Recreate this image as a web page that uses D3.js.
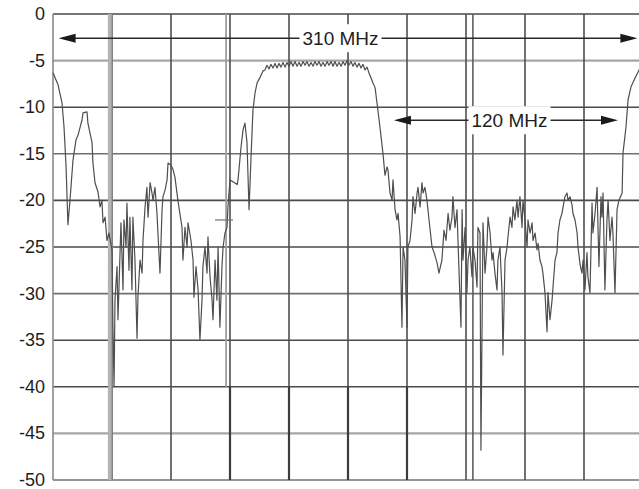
<!DOCTYPE html>
<html>
<head>
<meta charset="utf-8">
<script src="https://cdn.jsdelivr.net/npm/d3@7"></script>
<style>
  body { margin: 0; background: #fff; }
  svg { display: block; }
</style>
</head>
<body>
<svg id="chart" width="639" height="489"></svg>
<script>
// Level axis (dB) ticks and their printed labels
const levelTicks = [0, -5, -10, -15, -20, -25, -30, -35, -40, -45, -50];
const tickLabels = ["0", "-5", "-10", "-15", "-20", "-25", "-30", "-35", "-40", "-45", "-50"];

// Frequency offset from centre (MHz) and measured level (dB)
const spectrum = [
  [-158.0,-6.3],[-155.3,-7.6],[-153.2,-9.5],[-152.1,-12.1],[-151.0,-16.4],[-150.0,-22.6],[-148.9,-20.0],
  [-147.3,-15.7],[-145.7,-13.5],[-144.6,-13.0],[-142.5,-11.4],[-141.9,-10.6],[-139.8,-10.5],[-139.3,-11.7],
  [-137.1,-13.8],[-136.6,-16.0],[-135.5,-18.1],[-133.9,-19.1],[-132.8,-20.7],[-131.8,-20.0],[-131.2,-22.4],
  [-130.1,-21.8],[-129.1,-24.3],[-128.0,-23.5],[-126.4,-25.3],[-125.9,-33.6],[-125.3,-40.0],[-124.8,-30.7],
  [-123.7,-27.1],[-123.2,-32.8],[-121.6,-22.4],[-120.5,-29.6],[-120.0,-22.1],[-118.9,-25.0],[-118.4,-20.3],
  [-117.3,-27.5],[-116.8,-21.8],[-115.7,-29.6],[-115.2,-21.8],[-114.1,-26.4],[-113.0,-34.8],[-112.5,-30.4],
  [-111.4,-26.4],[-110.3,-27.8],[-109.8,-24.3],[-108.7,-20.7],[-107.7,-18.6],[-107.1,-21.8],[-106.0,-18.1],
  [-105.0,-19.2],[-104.4,-20.0],[-103.4,-18.6],[-102.3,-21.4],[-101.8,-23.5],[-100.7,-27.8],[-99.6,-21.0],
  [-99.1,-19.6],[-98.0,-18.9],[-96.9,-17.8],[-96.4,-16.0],[-94.8,-16.2],[-93.7,-16.7],[-92.7,-17.5],
  [-91.1,-20.0],[-88.9,-22.9],[-88.4,-26.4],[-87.3,-22.9],[-86.2,-25.0],[-85.7,-22.4],[-84.1,-24.3],
  [-83.0,-26.4],[-82.5,-30.4],[-81.4,-27.1],[-80.3,-29.6],[-79.3,-35.0],[-78.2,-30.7],[-77.7,-27.1],
  [-76.6,-25.0],[-75.5,-27.8],[-75.0,-23.9],[-73.9,-28.2],[-72.8,-30.7],[-72.3,-32.8],[-71.2,-26.4],
  [-70.2,-30.7],[-69.6,-25.0],[-68.6,-33.6],[-67.5,-27.1],[-66.9,-25.0],[-65.9,-23.5],[-64.8,-22.9],
  [-64.3,-20.7],[-63.2,-17.8],[-61.6,-18.0],[-59.4,-18.3],[-58.9,-17.8],[-57.3,-14.3],[-56.2,-12.4],
  [-55.2,-11.7],[-54.1,-13.8],[-53.0,-21.0],[-52.0,-15.7],[-50.9,-10.3],[-49.8,-8.5],[-48.7,-7.4],
  [-47.1,-6.8],[-45.5,-6.1],[-44.5,-6.0],
  // passband ripple
  [-43.4,-5.5],[-42.3,-5.9],[-41.3,-5.4],[-40.2,-5.8],[-39.1,-5.3],[-38.0,-5.8],[-37.0,-5.3],[-35.9,-5.7],
  [-34.8,-5.2],[-33.7,-5.7],[-32.7,-5.2],[-31.6,-5.6],[-30.5,-5.1],[-29.5,-5.6],[-28.4,-5.1],[-27.3,-5.6],
  [-26.2,-5.2],[-25.2,-5.6],[-24.1,-5.1],[-23.0,-5.5],[-22.0,-5.1],[-20.9,-5.6],[-19.8,-5.2],[-18.7,-5.6],
  [-17.7,-5.1],[-16.6,-5.5],[-15.5,-5.1],[-14.5,-5.6],[-13.4,-5.2],[-12.3,-5.6],[-11.2,-5.1],[-10.2,-5.5],
  [-9.1,-5.1],[-8.0,-5.6],[-7.0,-5.1],[-5.9,-5.6],[-4.8,-5.2],[-3.7,-5.6],[-2.7,-5.1],[-1.6,-5.5],
  [-0.5,-5.0],[0.5,-5.5],[1.6,-5.1],[2.7,-5.6],[3.7,-5.2],[4.8,-5.7],[5.9,-5.3],[7.0,-5.8],
  [8.0,-5.4],[9.1,-6.0],[10.2,-5.7],[11.2,-6.3],
  // upper skirt and stopband
  [13.4,-7.4],[14.5,-7.9],[15.5,-9.5],[17.1,-12.1],[18.7,-14.9],[19.8,-17.3],[20.9,-16.4],[21.4,-16.7],
  [22.5,-19.2],[23.6,-20.0],[24.1,-17.8],[25.2,-21.0],[26.2,-22.1],[26.8,-21.4],[27.9,-23.9],[28.9,-33.6],
  [29.5,-25.0],[30.5,-26.4],[31.6,-33.6],[32.1,-25.0],[33.2,-24.3],[34.3,-22.1],[34.8,-19.6],[35.9,-21.4],
  [37.0,-19.2],[37.5,-18.6],[38.6,-20.7],[39.6,-18.1],[40.2,-19.2],[41.2,-18.6],[42.3,-20.0],[43.4,-22.1],
  [45.0,-25.0],[46.1,-25.6],[47.7,-26.7],[48.7,-27.8],[50.3,-26.4],[51.4,-23.2],[52.5,-24.3],[53.6,-21.4],
  [54.6,-23.2],[55.7,-21.8],[56.2,-19.6],[57.3,-22.9],[58.4,-21.0],[58.9,-24.3],[60.5,-33.6],[61.1,-21.0],
  [61.6,-26.4],[62.7,-22.9],[63.7,-29.9],[64.3,-26.4],[65.3,-25.0],[66.4,-28.2],[66.9,-25.0],[68.0,-26.4],
  [69.1,-29.3],[69.6,-22.9],[70.7,-23.5],[71.2,-46.8],[72.3,-22.4],[73.4,-27.8],[74.4,-25.0],[75.0,-21.8],
  [76.1,-23.5],[77.1,-26.4],[77.7,-25.6],[78.7,-27.8],[79.8,-29.6],[80.3,-26.4],[81.4,-25.0],[82.5,-29.9],
  [83.0,-36.6],[84.1,-26.4],[85.2,-25.0],[85.7,-23.9],[86.8,-21.8],[87.8,-22.9],[88.4,-20.7],[89.4,-22.1],
  [90.5,-20.0],[91.1,-21.8],[92.1,-19.6],[93.2,-22.9],[93.7,-20.0],[94.8,-22.1],[95.9,-25.0],[96.4,-22.1],
  [97.5,-23.5],[98.6,-22.4],[99.1,-24.3],[100.2,-23.5],[101.2,-25.3],[101.8,-24.6],[102.8,-26.4],[103.9,-27.1],
  [104.4,-27.8],[105.5,-29.9],[106.6,-34.1],[107.1,-29.9],[108.2,-32.8],[109.3,-30.7],[109.8,-29.3],[110.9,-26.4],
  [111.9,-25.6],[112.5,-23.5],[113.5,-22.1],[114.6,-21.4],[115.2,-20.7],[116.2,-19.6],[117.3,-19.2],[117.8,-20.0],
  [118.9,-19.6],[120.0,-20.5],[120.5,-21.4],[121.6,-22.1],[122.7,-23.5],[123.2,-25.0],[124.3,-26.9],[125.3,-27.8],
  [125.9,-26.4],[126.9,-29.6],[128.0,-25.6],[128.5,-28.2],[129.6,-29.9],[130.7,-20.3],[131.2,-23.5],[132.3,-21.4],
  [133.4,-18.6],[133.9,-22.9],[134.4,-27.1],[135.5,-19.6],[136.0,-21.8],[136.6,-19.2],[137.6,-29.6],[138.7,-22.1],
  [139.3,-20.0],[140.3,-24.3],[141.4,-21.8],[141.9,-23.5],[143.0,-29.9],[144.1,-21.0],[145.1,-20.0],[146.8,-19.2],
  [147.3,-14.9],[148.9,-12.1],[150.0,-9.2],[151.6,-7.8],[153.7,-6.9],[155.9,-6.0],[158.0,-5.4]
];

// Bandwidth annotations: label, span (MHz), centre (MHz)
const spanLabels  = ["310 MHz", "120 MHz"];
const spanWidths  = [310, 120];
const spanCenters = [0, 84.6];
const spanLevels  = [-2.6, -11.4];   // dB at which each arrow is drawn
const labelCenters = [-4, 86.5];     // MHz at which each label sits

const svg = d3.select("#chart");
const x = d3.scaleLinear().domain([-158, 158]).range([53, 643]);
const y = d3.scaleLinear().domain([-50, 0]).range([480, 14]);
const divisions = d3.range(11).map(i => -158 + i * 31.6);

const grid = svg.append("g");

// horizontal graticule
const lightLevels = new Set([-5, -45]);
const midLevels = new Set([-30, -50, -15]);
grid.selectAll("line.h").data(levelTicks).join("line")
  .attr("x1", x(-158)).attr("x2", x(158))
  .attr("y1", d => y(d)).attr("y2", d => y(d))
  .attr("stroke", d => lightLevels.has(d) ? "#a6a6a6" : midLevels.has(d) ? "#707070" : "#4a4a4a")
  .attr("stroke-width", d => lightLevels.has(d) ? 2.2 : 1.6);

// vertical graticule
grid.selectAll("line.v").data(divisions).join("line")
  .attr("x1", d => x(d)).attr("x2", d => x(d))
  .attr("y1", y(0)).attr("y2", y(-50))
  .attr("stroke", (d, i) => i === 0 ? "#8a8a8a" : "#4e4e4e")
  .attr("stroke-width", 1.6);

// doubled rules from the overlaid sweep
grid.append("line")
  .attr("x1", x(-127.4)).attr("x2", x(-127.4)).attr("y1", y(0)).attr("y2", y(-50))
  .attr("stroke", "#b3b3b3").attr("stroke-width", 4.5);
grid.append("line")
  .attr("x1", x(-126.3)).attr("x2", x(-126.3)).attr("y1", y(0)).attr("y2", y(-50))
  .attr("stroke", "#808080").attr("stroke-width", 1.2);
grid.append("line")
  .attr("x1", x(-65.3)).attr("x2", x(-65.3)).attr("y1", y(0)).attr("y2", y(-40))
  .attr("stroke", "#a0a0a0").attr("stroke-width", 1.8);
grid.append("line")
  .attr("x1", x(66.9)).attr("x2", x(66.9)).attr("y1", y(0)).attr("y2", y(-50))
  .attr("stroke", "#555").attr("stroke-width", 1.5);
// heavier lower graticule segments
[divisions[3], divisions[4], divisions[5], divisions[6]].forEach(d => {
  grid.append("line")
    .attr("x1", x(d)).attr("x2", x(d)).attr("y1", y(-40)).attr("y2", y(-50))
    .attr("stroke", "#3c3c3c").attr("stroke-width", 2.2);
});

// level axis labels
const axis = d3.axisLeft(y).tickValues(levelTicks)
  .tickFormat((d, i) => tickLabels[i]).tickSize(0).tickPadding(8);
const ax = svg.append("g").attr("transform", `translate(${x(-158)},0)`).call(axis);
ax.select(".domain").remove();
ax.selectAll("text")
  .attr("dy", "0.3em")
  .attr("font-family", "'Liberation Sans', Arial, sans-serif")
  .attr("font-size", 18).attr("fill", "#1e1e1e");

// spectrum trace
const line = d3.line().x(d => x(d[0])).y(d => y(d[1]));
svg.append("path").datum(spectrum)
  .attr("d", line).attr("fill", "none")
  .attr("stroke", "#4e4e4e").attr("stroke-width", 1.2)
  .attr("stroke-linejoin", "round");

// small marker dash
svg.append("line")
  .attr("x1", x(-71.2)).attr("x2", x(-61.6)).attr("y1", y(-22.1)).attr("y2", y(-22.1))
  .attr("stroke", "#707070").attr("stroke-width", 1.2);

// bandwidth arrows
const ann = svg.append("g");
spanLabels.forEach((lab, i) => {
  const x0 = x(spanCenters[i] - spanWidths[i] / 2);
  const x1 = x(spanCenters[i] + spanWidths[i] / 2);
  const yy = y(spanLevels[i]);
  ann.append("line").attr("x1", x0 + 4).attr("x2", x1 - 4).attr("y1", yy).attr("y2", yy)
    .attr("stroke", "#2a2a2a").attr("stroke-width", 1.6);
  ann.append("path")
    .attr("d", `M${x0},${yy} L${x0 + 17},${yy - 4.5} L${x0 + 17},${yy + 4.5} Z`)
    .attr("fill", "#1a1a1a");
  ann.append("path")
    .attr("d", `M${x1},${yy} L${x1 - 17},${yy - 4.5} L${x1 - 17},${yy + 4.5} Z`)
    .attr("fill", "#1a1a1a");
  const bg = ann.append("rect").attr("fill", "#fff");
  const t = ann.append("text")
    .attr("x", x(labelCenters[i])).attr("y", yy)
    .attr("text-anchor", "middle").attr("dy", "0.35em")
    .attr("font-family", "'Liberation Sans', Arial, sans-serif")
    .attr("font-size", 19).attr("fill", "#1e1e1e")
    .text(lab);
  const bb = t.node().getBBox();
  bg.attr("x", bb.x - 3).attr("width", bb.width + 6)
    .attr("y", yy - 14).attr("height", 28);
});
</script>
</body>
</html>
